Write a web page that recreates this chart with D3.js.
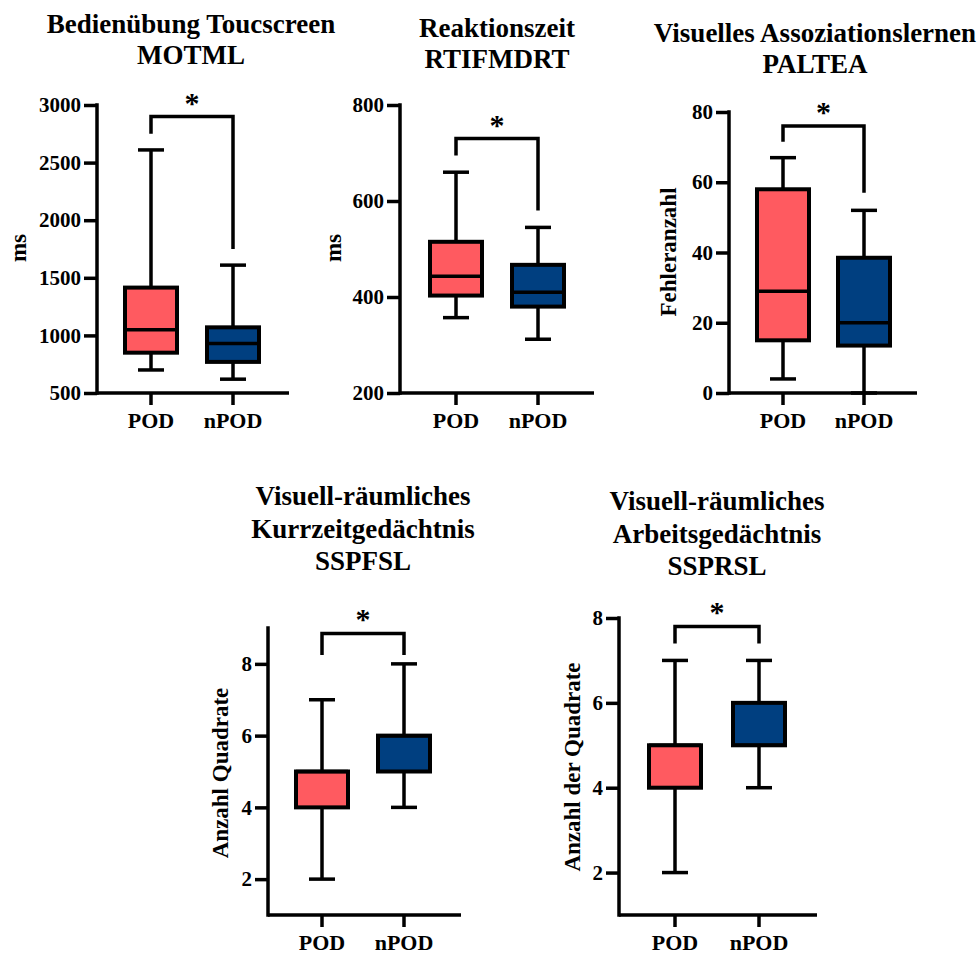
<!DOCTYPE html>
<html>
<head>
<meta charset="utf-8">
<script src="https://cdn.jsdelivr.net/npm/d3@7"></script>
<style>
  body { margin: 0; background: #fff; }
  svg { display: block; }
  text { font-family: "Liberation Serif", "Times New Roman", serif; font-weight: bold; fill: #000; }
</style>
</head>
<body>
<div class="container"></div>
<script>
// groups and colours
let groups = ["POD", "nPOD"];
let groupColors = ["#FF5A60", "#003F80"];

// box stats: [min, q1, median, q3, max]
let motmlPOD  = [700, 850, 1050, 1415, 2610];
let motmlNPOD = [620, 770, 930, 1070, 1610];
let rtiPOD    = [357, 403, 443, 515, 660];
let rtiNPOD   = [312, 380, 410, 467, 545];
let paltPOD   = [4, 15, 29, 58, 67];
let paltNPOD  = [0, 13.5, 20, 38.5, 52];
let sspfPOD   = [2, 4, 5, 5, 7];
let sspfNPOD  = [4, 5, 6, 6, 8];
let ssprPOD   = [2, 4, 5, 5, 7];
let ssprNPOD  = [4, 5, 5, 6, 7];

// y tick labels
let motmlTicks = [500, 1000, 1500, 2000, 2500, 3000];
let rtiTicks   = [200, 400, 600, 800];
let paltTicks  = [0, 20, 40, 60, 80];
let sspfTicks  = [2, 4, 6, 8];
let ssprTicks  = [2, 4, 6, 8];

// significance brackets: [POD leg end, top, nPOD leg end]
let motmlSig = [2750, 2900, 1750];
let rtiSig   = [695, 730, 580];
let paltSig  = [71.5, 76, 57];
let sspfSig  = [8.25, 8.85, 8.25];
let ssprSig  = [7.4, 7.8, 7.4];

let svg = d3.select(".container").append("svg")
    .attr("width", 978)
    .attr("height", 956);

let panels = [
  {title: ["Bedienübung Toucscreen", "MOTML"], tx: 191, ty: [33, 64], ylabel: "ms", lx: 18, ly: 248,
   data: [motmlPOD, motmlNPOD], ticks: motmlTicks, domain: [500, 3000], sig: motmlSig,
   ax: 97, top: 105, bottom: 393, right: 289, xs: [151, 233], labY: 428},
  {title: ["Reaktionszeit", "RTIFMDRT"], tx: 497, ty: [37, 68], ylabel: "ms", lx: 333, ly: 248,
   data: [rtiPOD, rtiNPOD], ticks: rtiTicks, domain: [200, 800], sig: rtiSig,
   ax: 400, top: 105, bottom: 393, right: 594, xs: [456, 538], labY: 428},
  {title: ["Visuelles Assoziationslernen", "PALTEA"], tx: 815, ty: [42, 73], ylabel: "Fehleranzahl", lx: 668, ly: 252,
   data: [paltPOD, paltNPOD], ticks: paltTicks, domain: [0, 80], sig: paltSig,
   ax: 729, top: 112, bottom: 393, right: 917, xs: [783, 864], labY: 428},
  {title: ["Visuell-räumliches", "Kurrzeitgedächtnis", "SSPFSL"], tx: 363, ty: [505, 538, 570], ylabel: "Anzahl Quadrate", lx: 220, ly: 773,
   data: [sspfPOD, sspfNPOD], ticks: sspfTicks, domain: [1, 9], sig: sspfSig,
   ax: 268, top: 628, bottom: 915, right: 461, xs: [322, 404], labY: 950},
  {title: ["Visuell-räumliches", "Arbeitsgedächtnis", "SSPRSL"], tx: 717, ty: [510, 543, 575], ylabel: "Anzahl der Quadrate", lx: 572, ly: 767,
   data: [ssprPOD, ssprNPOD], ticks: ssprTicks, domain: [1, 8], sig: ssprSig,
   ax: 619, top: 618, bottom: 915, right: 817, xs: [675, 759], labY: 950}
];

let boxW = 52, capW = 26, sw = 3.5;

panels.forEach(p => {
  let g = svg.append("g");
  let y = d3.scaleLinear().domain(p.domain).range([p.bottom, p.top]);
  let x = d3.scaleOrdinal().domain(groups).range(p.xs);

  // title
  p.title.forEach((t, i) => {
    g.append("text")
      .text(t)
      .attr("x", p.tx)
      .attr("y", p.ty[i])
      .attr("text-anchor", "middle")
      .style("font-size", "27px");
  });

  // y label
  g.append("text")
    .text(p.ylabel)
    .attr("transform", "translate(" + p.lx + "," + p.ly + ") rotate(-90)")
    .attr("text-anchor", "middle")
    .attr("dominant-baseline", "central")
    .style("font-size", "23px");

  // y axis
  let yAxis = g.append("g")
    .attr("transform", "translate(" + p.ax + ",0)")
    .call(d3.axisLeft(y).tickValues(p.ticks).tickFormat(d3.format("d"))
      .tickSize(13).tickPadding(3).tickSizeOuter(0));
  yAxis.select(".domain").remove();
  yAxis.selectAll(".tick line").attr("stroke", "#000").attr("stroke-width", sw);
  yAxis.selectAll(".tick text").style("font-size", "21px").attr("font-family", null);

  g.append("line")
    .attr("x1", p.ax).attr("x2", p.ax)
    .attr("y1", p.top - sw / 2).attr("y2", p.bottom + sw / 2)
    .attr("stroke", "#000").attr("stroke-width", sw);

  // x axis
  g.append("line")
    .attr("x1", p.ax).attr("x2", p.right)
    .attr("y1", p.bottom).attr("y2", p.bottom)
    .attr("stroke", "#000").attr("stroke-width", sw);
  groups.forEach(k => {
    g.append("line")
      .attr("x1", x(k)).attr("x2", x(k))
      .attr("y1", p.bottom).attr("y2", p.bottom + 12)
      .attr("stroke", "#000").attr("stroke-width", sw);
    g.append("text")
      .text(k)
      .attr("x", x(k))
      .attr("y", p.labY)
      .attr("text-anchor", "middle")
      .style("font-size", "22px");
  });

  // boxes
  p.data.forEach((d, i) => {
    let cx = x(groups[i]);
    let line = (x1, y1, x2, y2) => g.append("line")
      .attr("x1", x1).attr("y1", y1).attr("x2", x2).attr("y2", y2)
      .attr("stroke", "#000").attr("stroke-width", sw);
    line(cx, y(d[0]), cx, y(d[1]));
    line(cx, y(d[3]), cx, y(d[4]));
    line(cx - capW / 2, y(d[0]), cx + capW / 2, y(d[0]));
    line(cx - capW / 2, y(d[4]), cx + capW / 2, y(d[4]));
    g.append("rect")
      .attr("x", cx - boxW / 2)
      .attr("y", y(d[3]))
      .attr("width", boxW)
      .attr("height", y(d[1]) - y(d[3]))
      .attr("fill", groupColors[i])
      .attr("stroke", "#000")
      .attr("stroke-width", 4);
    line(cx - boxW / 2, y(d[2]), cx + boxW / 2, y(d[2]));
  });

  // significance bracket
  let x1 = x(groups[0]), x2 = x(groups[1]);
  g.append("path")
    .attr("d", "M" + x1 + "," + y(p.sig[0]) + "V" + y(p.sig[1]) + "H" + x2 + "V" + y(p.sig[2]))
    .attr("fill", "none")
    .attr("stroke", "#000")
    .attr("stroke-width", sw);
  g.append("text")
    .text("*")
    .attr("x", (x1 + x2) / 2)
    .attr("y", y(p.sig[1]) - 4)
    .attr("text-anchor", "middle")
    .style("font-size", "30px");
});
</script>
</body>
</html>
